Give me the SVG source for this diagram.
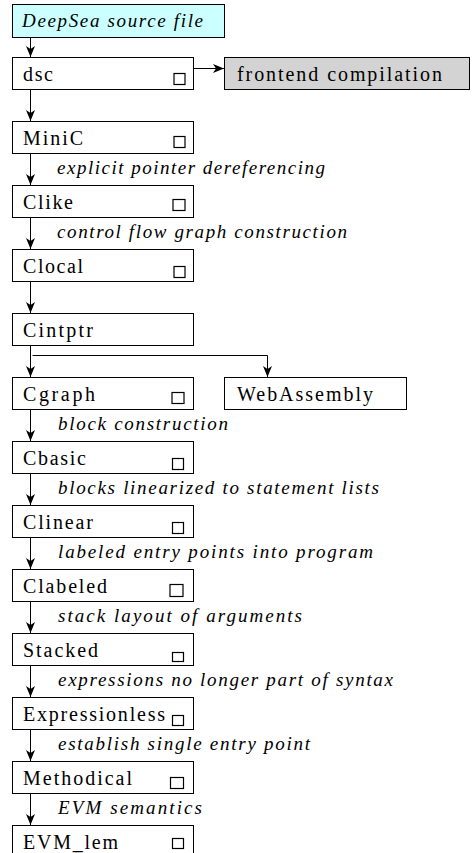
<svg xmlns="http://www.w3.org/2000/svg" width="472" height="853" viewBox="0 0 472 853">
<style>
.box{fill:#ffffff;stroke:#000000;stroke-width:1}
.sq{fill:#ffffff;stroke:#000000;stroke-width:1.2}
.t{font-size:20px;fill:#000000}
.i{font-size:19px;font-style:italic;fill:#000000}
.c{fill:none;stroke:#000000;stroke-width:1}
</style>
<defs>
<marker id="ah" viewBox="0 0 11 9" refX="11" refY="4.5" markerWidth="11" markerHeight="9" orient="auto" markerUnits="userSpaceOnUse">
<path d="M0,0 L11,4.5 L0,9 L3,4.5 Z" fill="#000000"/>
</marker>
</defs>
<rect width="472" height="853" fill="#ffffff"/>
<g font-family="Liberation Serif, DejaVu Serif, serif">
<g id="connectors">
<line class="c" x1="30.5" y1="37.5" x2="30.5" y2="57" marker-end="url(#ah)"/>
<line class="c" x1="193.5" y1="68.5" x2="224" y2="68.5" marker-end="url(#ah)"/>
<line class="c" x1="30.5" y1="89.5" x2="30.5" y2="121" marker-end="url(#ah)"/>
<line class="c" x1="30.5" y1="153.5" x2="30.5" y2="185" marker-end="url(#ah)"/>
<line class="c" x1="30.5" y1="217.5" x2="30.5" y2="249" marker-end="url(#ah)"/>
<line class="c" x1="30.5" y1="281.5" x2="30.5" y2="313" marker-end="url(#ah)"/>
<line class="c" x1="30.5" y1="345.5" x2="30.5" y2="377" marker-end="url(#ah)"/>
<polyline class="c" points="32.5,355.5 267.5,355.5 267.5,377" marker-end="url(#ah)"/>
<line class="c" x1="30.5" y1="409.5" x2="30.5" y2="441" marker-end="url(#ah)"/>
<line class="c" x1="30.5" y1="473.5" x2="30.5" y2="505" marker-end="url(#ah)"/>
<line class="c" x1="30.5" y1="537.5" x2="30.5" y2="569" marker-end="url(#ah)"/>
<line class="c" x1="30.5" y1="601.5" x2="30.5" y2="633" marker-end="url(#ah)"/>
<line class="c" x1="30.5" y1="665.5" x2="30.5" y2="697" marker-end="url(#ah)"/>
<line class="c" x1="30.5" y1="729.5" x2="30.5" y2="761" marker-end="url(#ah)"/>
<line class="c" x1="30.5" y1="793.5" x2="30.5" y2="825" marker-end="url(#ah)"/>
<text class="i" x="57" y="174" textLength="268">explicit pointer dereferencing</text>
<text class="i" x="57" y="238" textLength="290">control flow graph construction</text>
<text class="i" x="58" y="430" textLength="170">block construction</text>
<text class="i" x="58" y="494" textLength="321">blocks linearized to statement lists</text>
<text class="i" x="58" y="558" textLength="315">labeled entry points into program</text>
<text class="i" x="58" y="622" textLength="244">stack layout of arguments</text>
<text class="i" x="58" y="686" textLength="335">expressions no longer part of syntax</text>
<text class="i" x="58" y="750" textLength="252">establish single entry point</text>
<text class="i" x="58" y="814" textLength="144">EVM semantics</text>
</g>
<g id="source">
<rect x="12.5" y="4.5" width="212" height="33" fill="#ccffff" stroke="#000000"/>
<text class="i" x="22" y="27" textLength="181">DeepSea source file</text>
</g>
<g id="dsc">
<rect class="box" x="12.5" y="57.5" width="181" height="32"/>
<text class="t" x="23" y="81" textLength="30">dsc</text>
<rect class="sq" x="174" y="73.5" width="11" height="11"/>
</g>
<g id="frontend">
<rect x="224.5" y="57.5" width="245" height="32" fill="#d3d3d3" stroke="#000000"/>
<text class="t" x="237" y="81" textLength="205">frontend compilation</text>
</g>
<g id="MiniC">
<rect class="box" x="12.5" y="121.5" width="181" height="32"/>
<text class="t" x="23" y="145" textLength="60">MiniC</text>
<rect class="sq" x="174" y="136.5" width="11" height="11"/>
</g>
<g id="Clike">
<rect class="box" x="12.5" y="185.5" width="181" height="32"/>
<text class="t" x="23" y="209" textLength="50">Clike</text>
<rect class="sq" x="173" y="199.5" width="12" height="11"/>
</g>
<g id="Clocal">
<rect class="box" x="12.5" y="249.5" width="181" height="32"/>
<text class="t" x="23" y="273" textLength="60">Clocal</text>
<rect class="sq" x="174" y="266.5" width="11" height="11"/>
</g>
<g id="Cintptr">
<rect class="box" x="12.5" y="313.5" width="181" height="32"/>
<text class="t" x="23" y="337" textLength="70">Cintptr</text>
</g>
<g id="Cgraph">
<rect class="box" x="12.5" y="377.5" width="181" height="32"/>
<text class="t" x="23" y="401" textLength="72">Cgraph</text>
<rect class="sq" x="172" y="392.5" width="12" height="11"/>
</g>
<g id="WebAssembly">
<rect class="box" x="224.5" y="377.5" width="182" height="32"/>
<text class="t" x="237" y="401" textLength="136">WebAssembly</text>
</g>
<g id="Cbasic">
<rect class="box" x="12.5" y="441.5" width="181" height="32"/>
<text class="t" x="23" y="465" textLength="63">Cbasic</text>
<rect class="sq" x="172.5" y="458.5" width="11" height="11"/>
</g>
<g id="Clinear">
<rect class="box" x="12.5" y="505.5" width="181" height="32"/>
<text class="t" x="23" y="529" textLength="70">Clinear</text>
<rect class="sq" x="172.5" y="522.5" width="11" height="11"/>
</g>
<g id="Clabeled">
<rect class="box" x="12.5" y="569.5" width="181" height="32"/>
<text class="t" x="23" y="593" textLength="84">Clabeled</text>
<rect class="sq" x="170" y="584.5" width="13" height="12"/>
</g>
<g id="Stacked">
<rect class="box" x="12.5" y="633.5" width="181" height="32"/>
<text class="t" x="23" y="657" textLength="75">Stacked</text>
<rect class="sq" x="172.5" y="652.5" width="11" height="9"/>
</g>
<g id="Expressionless">
<rect class="box" x="12.5" y="697.5" width="181" height="32"/>
<text class="t" x="23" y="721" textLength="142">Expressionless</text>
<rect class="sq" x="172.5" y="715.5" width="11" height="10"/>
</g>
<g id="Methodical">
<rect class="box" x="12.5" y="761.5" width="181" height="32"/>
<text class="t" x="23" y="785" textLength="109">Methodical</text>
<rect class="sq" x="170.5" y="777.5" width="13" height="11"/>
</g>
<g id="EVM_lem">
<rect class="box" x="12.5" y="825.5" width="181" height="32"/>
<text class="t" x="23" y="849" textLength="95">EVM_lem</text>
<rect class="sq" x="172.5" y="838.5" width="11" height="10"/>
</g>
</g>
</svg>
